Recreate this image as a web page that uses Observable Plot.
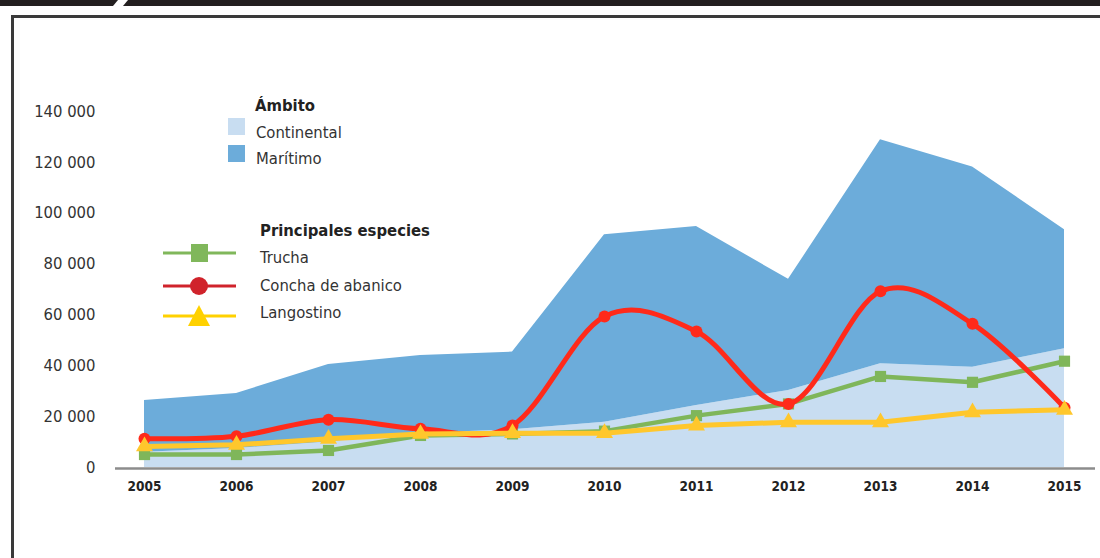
<!DOCTYPE html>
<html><head><meta charset="utf-8">
<script src="https://cdn.jsdelivr.net/npm/d3@7"></script>
<script src="https://cdn.jsdelivr.net/npm/@observablehq/plot@0.6"></script>
<style>
body{margin:0;background:#fff;}
#wrap{position:relative;width:1100px;height:558px;overflow:hidden;background:#fff;}
#chart svg{position:absolute;left:0;top:0;}
#deco,#legend{position:absolute;left:0;top:0;pointer-events:none;}
</style></head>
<body>
<div id="wrap">
  <div id="chart"></div>
  <svg id="deco" width="1100" height="558"></svg>
  <svg id="legend" width="1100" height="558"></svg>
</div>
<script>
// ---- data ----
const years = [2005, 2006, 2007, 2008, 2009, 2010, 2011, 2012, 2013, 2014, 2015];
const ambitos = ["Continental", "Marítimo"];
const continental = [6000, 7500, 10000, 13500, 14800, 17800, 24400, 30300, 40800, 39400, 46700];
const maritimo   = [20300, 21600, 30500, 30500, 30600, 73700, 70400, 43700, 88100, 78800, 46800];
const especies = ["Trucha", "Concha de abanico", "Langostino"];
const trucha     = [5100, 5100, 6700, 12600, 13200, 14300, 20400, 25000, 35800, 33500, 41800];
const concha     = [11300, 12300, 18800, 15200, 16500, 59400, 53500, 25000, 69300, 56500, 23500];
const langostino = [8300, 8900, 11300, 13200, 13500, 13500, 16500, 17800, 17800, 21700, 22700];
const yTicks = [0, 20000, 40000, 60000, 80000, 100000, 120000, 140000];
const yTickLabels = ["0", "20 000", "40 000", "60 000", "80 000", "100 000", "120 000", "140 000"];

const ambitoColors = ["#c8ddf1", "#6cacda"];
const lineColors = ["#7fb65a", "#ff2a1a", "#ffc72c"];
const legendLineColors = ["#80b75b", "#d0232b", "#ffd100"];
const symbols = ["square", "circle", "triangle"];

const FONT = '"Liberation Sans Narrow","DejaVu Sans Condensed",Roboto,sans-serif';

const areaData = [];
ambitos.forEach((a, i) => {
  const vals = i === 0 ? continental : maritimo;
  years.forEach((y, j) => areaData.push({year: y, ambito: a, value: vals[j]}));
});
const seriesVals = [trucha, concha, langostino];
const lineData = especies.map((e, i) => years.map((y, j) => ({year: y, especie: e, value: seriesVals[i][j]})));

const lineMarks = [];
[0, 1, 2].forEach(i => {
  lineMarks.push(Plot.line(lineData[i], {
    x: "year", y: "value", stroke: lineColors[i], strokeWidth: i === 0 ? 4.5 : 5,
    curve: i === 1 ? "cardinal" : "linear", strokeLinejoin: "round"
  }));
  lineMarks.push(Plot.dot(lineData[i], {
    x: "year", y: "value", fill: lineColors[i], stroke: "none",
    symbol: symbols[i], r: i === 1 ? 6 : 6.3
  }));
});

const chart = Plot.plot({
  width: 1100, height: 558,
  marginLeft: 144, marginRight: 36, marginTop: 111, marginBottom: 91,
  style: {fontFamily: FONT, background: "transparent"},
  x: {domain: [2005, 2015], axis: null, label: null},
  y: {domain: [0, 140000], axis: null, label: null},
  color: {domain: ambitos, range: ambitoColors},
  marks: [
    Plot.areaY(areaData, {x: "year", y: "value", fill: "ambito"}),
    Plot.ruleY([0], {stroke: "#8c8c8c", strokeWidth: 2.5, dy: 1, insetLeft: -29, insetRight: -31}),
    Plot.axisY({ticks: yTicks, tickFormat: (d) => yTickLabels[yTicks.indexOf(d)], tickSize: 0, tickPadding: 49,
      fontSize: 16.5, fill: "#333", label: null}),
    Plot.axisX({ticks: years, tickFormat: (d) => String(d), tickSize: 0, tickPadding: 14,
      fontSize: 13.5, fontWeight: "bold", fill: "#222", label: null}),
    ...lineMarks
  ]
});
document.getElementById("chart").appendChild(chart);

// ---- frame decoration ----
const deco = d3.select("#deco");
deco.append("polygon").attr("points", "0,0 118,0 113,6 0,6").attr("fill", "#231f20");
deco.append("polygon").attr("points", "128,0 1100,0 1100,6 123,6").attr("fill", "#231f20");
deco.append("rect").attr("x", 11).attr("y", 15).attr("width", 1089).attr("height", 3).attr("fill", "#3a3a3a");
deco.append("rect").attr("x", 11).attr("y", 15).attr("width", 3).attr("height", 543).attr("fill", "#3a3a3a");

// ---- legends ----
const FS = 16.5;
const lg = d3.select("#legend").style("font-family", FONT);
lg.append("text").attr("x", 255).attr("y", 111).attr("font-size", FS).attr("font-weight", "bold").attr("fill", "#222").text("Ámbito");
ambitos.forEach((a, i) => {
  lg.append("rect").attr("x", 228).attr("y", 118 + i * 27).attr("width", 17).attr("height", 17).attr("fill", ambitoColors[i]);
  lg.append("text").attr("x", 256).attr("y", 138 + i * 26).attr("font-size", FS).attr("fill", "#333").text(a);
});
lg.append("text").attr("x", 260).attr("y", 236).attr("font-size", FS).attr("font-weight", "bold").attr("fill", "#222").text("Principales especies");
const lineYs = [253, 286, 316];
const textYs = [263, 291, 318];
especies.forEach((e, i) => {
  const cy = lineYs[i];
  lg.append("line").attr("x1", 163).attr("x2", 236).attr("y1", cy).attr("y2", cy).attr("stroke", legendLineColors[i]).attr("stroke-width", 3);
  if (i === 0) lg.append("rect").attr("x", 191).attr("y", cy - 9).attr("width", 17).attr("height", 18).attr("fill", legendLineColors[i]);
  if (i === 1) lg.append("circle").attr("cx", 199).attr("cy", cy).attr("r", 9).attr("fill", legendLineColors[i]);
  if (i === 2) lg.append("polygon").attr("points", `${199},${cy - 11} ${210},${cy + 10} ${188},${cy + 10}`).attr("fill", legendLineColors[i]);
  lg.append("text").attr("x", 260).attr("y", textYs[i]).attr("font-size", FS).attr("fill", "#333").text(e);
});
</script>
</body></html>
